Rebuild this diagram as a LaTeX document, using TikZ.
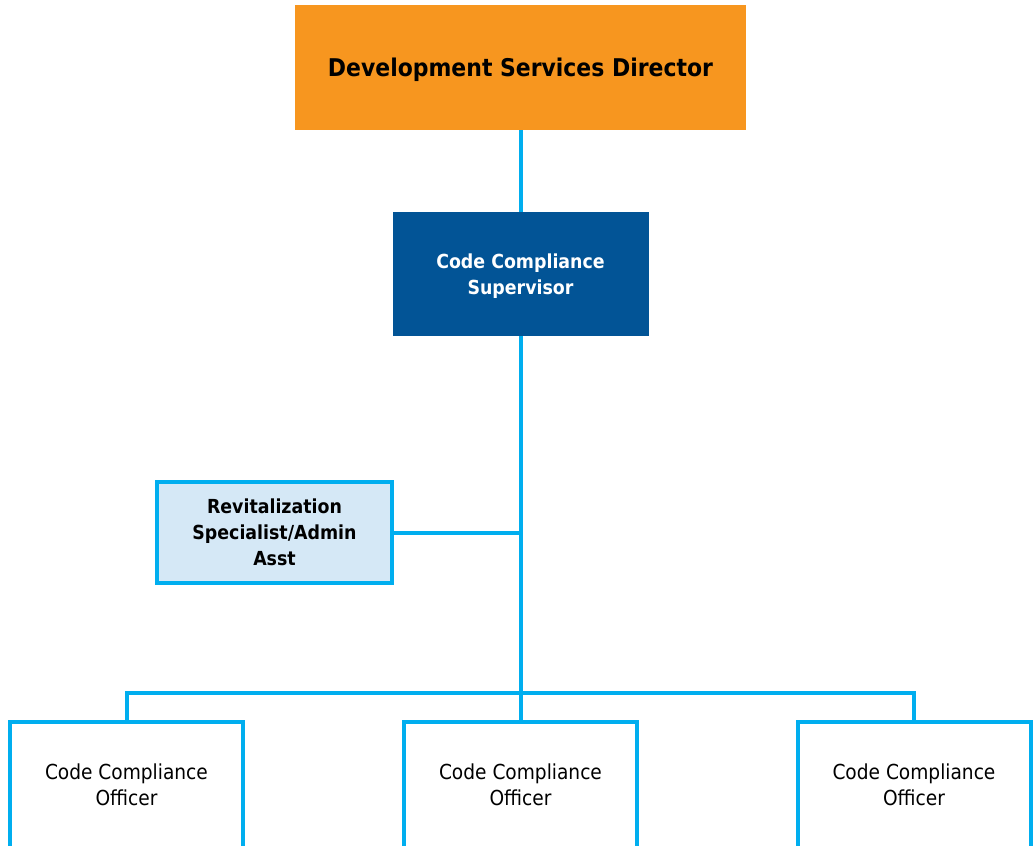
\documentclass[tikz,border=0pt]{standalone}
\usepackage{fontspec}
\setmainfont{DejaVu Sans Condensed}
\usepackage{xcolor}
\usepackage{tikz}
\definecolor{laranja}{HTML}{F7961F}
\definecolor{azul}{HTML}{025496}
\definecolor{ciano}{HTML}{00AEEF}
\definecolor{celeste}{HTML}{D5E8F6}

\begin{document}
\begin{tikzpicture}[
    x=0.75pt, y=-0.75pt,
    every node/.style={rectangle, align=center, inner sep=0pt},
    conn/.style={draw=ciano, line width=3pt}
]
\tikzset{
    diretor/.style={fill=laranja, minimum width=338.25pt, minimum height=93.75pt,
        text depth=0pt, font=\fontsize{18.3}{21}\selectfont\bfseries},
    chefe/.style={fill=azul, text=white, minimum width=192pt, minimum height=93pt,
        text depth=0pt, font=\fontsize{14.5}{19.5}\selectfont\bfseries},
    apoio/.style={draw=ciano, line width=3pt, fill=celeste, minimum width=176.25pt,
        minimum height=75.75pt, text depth=0pt, font=\fontsize{14.5}{19.5}\selectfont\bfseries},
    fiscal/.style={draw=ciano, line width=3pt, fill=white, minimum width=174.75pt,
        minimum height=94.5pt, font=\fontsize{15.5}{19.5}\selectfont}
}
\useasboundingbox (0,0) rectangle (1033,846);
\clip (0,0) rectangle (1033,846);
\node[diretor] (dir) at (520.5,67.5) {Development Services Director};
\node[chefe] (sup) at (520.5,274) {Code Compliance\\Supervisor};
\node[apoio] (rev) at (274.5,532.5) {Revitalization\\Specialist/Admin\\Asst};
\node[fiscal] (of1) at (126.5,785) {Code Compliance\\Officer};
\node[fiscal] (of2) at (520.5,785) {Code Compliance\\Officer};
\node[fiscal] (of3) at (914,785) {Code Compliance\\Officer};
\coordinate (bus) at (520.5,693);
\draw[conn] (dir) -- (sup);
\draw[conn] (sup) -- (of2);
\draw[conn] (rev.east) -- (rev.east -| sup.south);
\draw[conn] (of1.north) |- (bus) -| (of3.north);
\end{tikzpicture}
\end{document}
